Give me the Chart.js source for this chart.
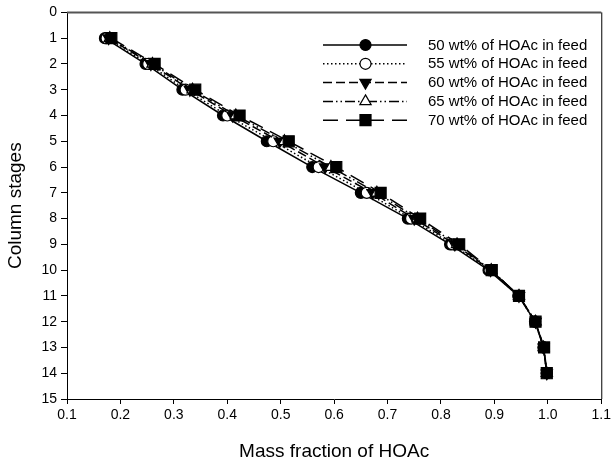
<!DOCTYPE html>
<html>
<head>
<meta charset="utf-8">
<script src="https://cdn.jsdelivr.net/npm/chart.js@4/dist/chart.umd.min.js"></script>
<style>
  html, body { margin: 0; padding: 0; background: #fff; }
  #wrap { width: 614px; height: 465px; position: relative; }
</style>
</head>
<body>
<div id="wrap"><canvas id="c" width="614" height="465"></canvas></div>
<script>
// Column stage numbers (top of column = 1)
const stages = [1, 2, 3, 4, 5, 6, 7, 8, 9, 10, 11, 12, 13, 14];

// Mass fraction of HOAc on each stage, per feed concentration
const hoac50 = [0.171, 0.247, 0.316, 0.392, 0.474, 0.559, 0.650, 0.738, 0.817, 0.889, 0.945, 0.976, 0.992, 0.998];
const hoac55 = [0.174, 0.252, 0.322, 0.400, 0.486, 0.571, 0.661, 0.744, 0.821, 0.891, 0.945, 0.976, 0.992, 0.998];
const hoac60 = [0.178, 0.257, 0.330, 0.410, 0.498, 0.583, 0.672, 0.750, 0.826, 0.893, 0.946, 0.977, 0.992, 0.998];
const hoac65 = [0.180, 0.260, 0.335, 0.416, 0.507, 0.594, 0.680, 0.756, 0.830, 0.894, 0.946, 0.977, 0.992, 0.998];
const hoac70 = [0.183, 0.264, 0.340, 0.423, 0.515, 0.604, 0.687, 0.761, 0.834, 0.895, 0.946, 0.977, 0.993, 0.998];

const seriesLabels = [
  '50 wt% of HOAc in feed',
  '55 wt% of HOAc in feed',
  '60 wt% of HOAc in feed',
  '65 wt% of HOAc in feed',
  '70 wt% of HOAc in feed'
];

const xTicks = [0.1, 0.2, 0.3, 0.4, 0.5, 0.6, 0.7, 0.8, 0.9, 1.0, 1.1];
const yTicks = [0, 1, 2, 3, 4, 5, 6, 7, 8, 9, 10, 11, 12, 13, 14, 15];

const FONT = '"Liberation Sans", Arial, sans-serif';

function pts(xs) { return xs.map((x, i) => ({ x: x, y: stages[i] })); }

// 'rect' is drawn with a half side of radius/sqrt(2), hence the larger radius
const styles = [
  { dash: [],               pointStyle: 'circle',   fill: '#000', rot: 0,   r: 5.5 },
  { dash: [1.5, 2.5],       pointStyle: 'circle',   fill: '#fff', rot: 0,   r: 5.5 },
  { dash: [9, 4],           pointStyle: 'triangle', fill: '#000', rot: 180, r: 6.5 },
  { dash: [10, 3, 1.5, 3, 1.5, 3], pointStyle: 'triangle', fill: '#fff', rot: 0, r: 6.5 },
  { dash: [15, 8],          pointStyle: 'rect',     fill: '#000', rot: 0,   r: 7.8 }
];

const seriesData = [hoac50, hoac55, hoac60, hoac65, hoac70];

// Later series are painted over earlier ones (lowest order ends on top)
const datasets = seriesData.map((vals, i) => ({
  label: seriesLabels[i],
  data: pts(vals),
  order: seriesData.length - 1 - i,
  showLine: true,
  borderColor: '#000',
  borderWidth: 1.5,
  borderDash: styles[i].dash,
  pointStyle: styles[i].pointStyle,
  pointRotation: styles[i].rot,
  pointRadius: styles[i].r,
  pointBackgroundColor: styles[i].fill,
  pointBorderColor: '#000',
  pointBorderWidth: 1.2,
  backgroundColor: styles[i].fill,
  tension: 0
}));

// Frame (top + right edges) of the plot area
const framePlugin = {
  id: 'frame',
  afterDraw(chart) {
    const ctx = chart.ctx;
    const a = chart.chartArea;
    ctx.save();
    ctx.strokeStyle = '#555';
    ctx.lineWidth = 2;
    ctx.beginPath();
    ctx.moveTo(a.left, a.top);
    ctx.lineTo(a.right, a.top);
    ctx.stroke();
    ctx.strokeStyle = '#000';
    ctx.lineWidth = 1;
    ctx.beginPath();
    ctx.moveTo(a.right + 0.5, a.top);
    ctx.lineTo(a.right + 0.5, a.bottom);
    ctx.stroke();
    ctx.restore();
  }
};

// Legend with line samples and the marker in the middle of each sample
const legendPlugin = {
  id: 'lineLegend',
  afterDatasetsDraw(chart) {
    const ctx = chart.ctx;
    const x0 = 323, x1 = 407, xm = 365.5, xt = 428;
    const y0 = 45, dy = 18.8;
    ctx.save();
    chart.data.datasets.forEach((ds, i) => {
      const y = y0 + i * dy;
      ctx.save();
      ctx.strokeStyle = '#000';
      ctx.lineWidth = ds.borderWidth;
      ctx.setLineDash(ds.borderDash);
      ctx.beginPath();
      ctx.moveTo(x0, y);
      ctx.lineTo(x1, y);
      ctx.stroke();
      ctx.restore();
      ctx.save();
      ctx.fillStyle = ds.pointBackgroundColor;
      ctx.strokeStyle = '#000';
      ctx.lineWidth = ds.pointBorderWidth;
      Chart.helpers.drawPoint(ctx, {
        pointStyle: ds.pointStyle,
        rotation: ds.pointRotation,
        radius: ds.pointRadius,
        borderWidth: ds.pointBorderWidth
      }, xm, y);
      ctx.restore();
      ctx.fillStyle = '#000';
      ctx.font = '15px ' + FONT;
      ctx.textBaseline = 'middle';
      ctx.textAlign = 'left';
      ctx.fillText(ds.label, xt, y + 0.5);
    });
    ctx.restore();
  }
};

new Chart(document.getElementById('c'), {
  type: 'scatter',
  data: { datasets: datasets },
  plugins: [framePlugin, legendPlugin],
  options: {
    responsive: false,
    animation: false,
    events: [],
    layout: { padding: { top: 12, right: 8, left: 0, bottom: 0 } },
    plugins: {
      legend: { display: false },
      tooltip: { enabled: false }
    },
    scales: {
      x: {
        type: 'linear',
        min: 0.1,
        max: 1.1,
        afterBuildTicks(axis) { axis.ticks = xTicks.map(v => ({ value: v })); },
        afterFit(axis) { axis.height = 66; },
        grid: { drawOnChartArea: false, tickLength: 5, color: '#000', tickColor: '#000' },
        border: { display: true, color: '#000', width: 1 },
        ticks: {
          color: '#000',
          font: { family: FONT, size: 14 },
          padding: 3,
          maxRotation: 0,
          callback: v => v.toFixed(1)
        },
        title: {
          display: true,
          text: 'Mass fraction of HOAc',
          color: '#000',
          font: { family: FONT, size: 19 },
          padding: { top: 0, bottom: 2 }
        }
      },
      y: {
        type: 'linear',
        reverse: true,
        min: 0,
        max: 15,
        afterBuildTicks(axis) { axis.ticks = yTicks.map(v => ({ value: v })); },
        afterFit(axis) { axis.width = 67; },
        grid: { drawOnChartArea: false, tickLength: 6, color: '#000', tickColor: '#000' },
        border: { display: true, color: '#000', width: 1 },
        ticks: {
          color: '#000',
          font: { family: FONT, size: 14 },
          padding: 4,
          callback: v => String(v)
        },
        title: {
          display: true,
          text: 'Column stages',
          color: '#000',
          font: { family: FONT, size: 19 },
          padding: { top: 4, bottom: 0 }
        }
      }
    }
  }
});
</script>
</body>
</html>
